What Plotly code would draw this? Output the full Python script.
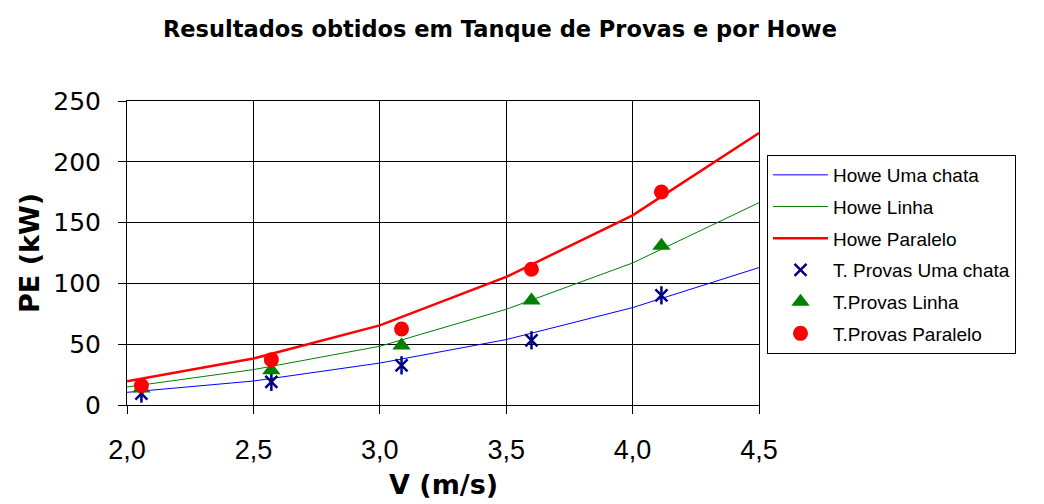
import plotly.graph_objects as go

# Howe estimates (lines) at V = 2.0 ... 4.5 m/s
v_howe = [2.0, 2.5, 3.0, 3.5, 4.0, 4.5]
howe_uma_chata = [10.4, 19.7, 34.5, 53.8, 80.1, 113.0]
howe_linha = [14.8, 29.1, 48.3, 78.7, 116.8, 166.4]
howe_paralelo = [19.5, 38.2, 65.5, 105.3, 156.0, 223.7]

# Towing tank measurements (markers)
v_tanque = [2.057, 2.571, 3.086, 3.600, 4.114]
tp_uma_chata = [9.4, 19.0, 32.6, 53.2, 90.2]
tp_linha = [13.5, 28.5, 49.0, 86.0, 131.0]
tp_paralelo = [16.0, 37.3, 62.5, 111.6, 175.2]

x_ticks = [2.0, 2.5, 3.0, 3.5, 4.0, 4.5]
x_tick_text = ["2,0", "2,5", "3,0", "3,5", "4,0", "4,5"]
y_ticks = [0, 50, 100, 150, 200, 250]

W, H = 1044, 504
L, R, T, B = 127, 285, 101, 99

fig = go.Figure()
fig.add_trace(go.Scatter(x=v_howe, y=howe_uma_chata, mode="lines", name="Howe Uma chata",
                         legendgroup="a", line=dict(color="#0000FF", width=1)))
fig.add_trace(go.Scatter(x=v_howe, y=howe_linha, mode="lines", name="Howe Linha",
                         legendgroup="b", line=dict(color="#008000", width=1)))
fig.add_trace(go.Scatter(x=v_howe, y=howe_paralelo, mode="lines", name="Howe Paralelo",
                         legendgroup="c", line=dict(color="#FF0000", width=2.5)))
# star marker: diagonal cross plus a vertical stroke
fig.add_trace(go.Scatter(x=v_tanque, y=tp_uma_chata, mode="markers", name="T. Provas Uma chata",
                         legendgroup="d",
                         marker=dict(symbol="x-thin-open", size=12, color="#000080",
                                     line=dict(color="#000080", width=2.5))))
fig.add_trace(go.Scatter(x=v_tanque, y=tp_uma_chata, mode="markers", showlegend=False,
                         legendgroup="d", hoverinfo="skip",
                         marker=dict(symbol="line-ns-open", size=13, color="#000080",
                                     line=dict(color="#000080", width=2.5))))
fig.add_trace(go.Scatter(x=v_tanque, y=tp_linha, mode="markers", name="T.Provas Linha",
                         legendgroup="e",
                         marker=dict(symbol="triangle-up", size=16, color="#008000",
                                     line=dict(width=0))))
fig.add_trace(go.Scatter(x=v_tanque, y=tp_paralelo, mode="markers", name="T.Provas Paralelo",
                         legendgroup="f",
                         marker=dict(symbol="circle", size=15, color="#FF0000",
                                     line=dict(width=0))))

fig.update_layout(
    width=W, height=H,
    margin=dict(l=L, r=R, t=T, b=B, autoexpand=False),
    paper_bgcolor="white", plot_bgcolor="white",
    font=dict(family="Liberation Sans, Arial, sans-serif", color="black"),
    showlegend=True,
    legend=dict(xref="container", yref="container", x=767 / W, y=1 - 155 / H,
                xanchor="left", yanchor="top",
                font=dict(size=19, color="black"),
                bordercolor="black", borderwidth=1, bgcolor="white",
                tracegroupgap=4, itemwidth=55),
    annotations=[
        dict(text="<b>Resultados obtidos em Tanque de Provas e por Howe</b>",
             xref="paper", yref="paper", x=(500 - L) / (W - L - R), y=1 + (T - 29) / (H - T - B),
             xanchor="center", yanchor="middle", showarrow=False,
             font=dict(family="DejaVu Sans", size=22.5, color="black")),
        dict(text="<b>PE (kW)</b>", textangle=-90,
             xref="paper", yref="paper", x=-(L - 29) / (W - L - R), y=0.5,
             xanchor="center", yanchor="middle", showarrow=False,
             font=dict(family="DejaVu Sans", size=27, color="black")),
        dict(text="<b>V (m/s)</b>",
             xref="paper", yref="paper", x=(443 - L) / (W - L - R), y=-(484 - (H - B)) / (H - T - B),
             xanchor="center", yanchor="middle", showarrow=False,
             font=dict(family="DejaVu Sans", size=27, color="black")),
    ],
)

fig.update_xaxes(range=[2.0, 4.5], tickvals=x_ticks, ticktext=x_tick_text,
                 showgrid=True, gridcolor="black", gridwidth=1,
                 showline=True, linecolor="black", linewidth=1, mirror=True,
                 ticks="outside", ticklen=8, tickcolor="black", ticklabelstandoff=13,
                 tickfont=dict(family="Liberation Sans, Arial", size=27), zeroline=False)
fig.update_yaxes(range=[0, 250], tickvals=y_ticks,
                 showgrid=True, gridcolor="black", gridwidth=1,
                 showline=True, linecolor="black", linewidth=1, mirror=True,
                 ticks="outside", ticklen=8, tickcolor="black", ticklabelstandoff=12,
                 tickfont=dict(family="DejaVu Sans", size=25), zeroline=False)

fig.write_html("out.html")
